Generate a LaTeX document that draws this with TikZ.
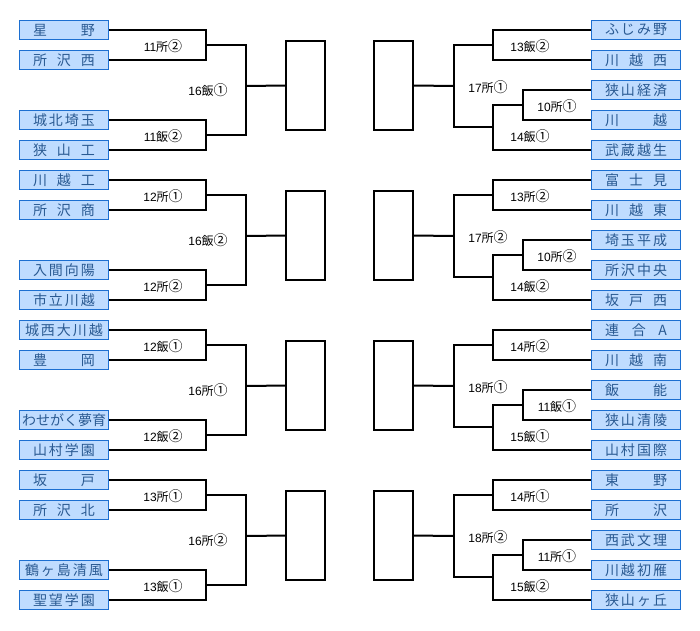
\documentclass[tikz,border=0pt]{standalone}
\usepackage{fontspec}
\newfontfamily\jp{Noto Sans CJK JP}
\newfontfamily\lat{Liberation Sans}
\definecolor{boxfill}{HTML}{BFDCFF}
\definecolor{boxline}{HTML}{1C6FD1}
\definecolor{boxtext}{HTML}{2A5A92}
\newcommand\nm[2]{\makebox[#1][s]{#2}}
\newcommand\lb[3]{{\lat\fontsize{12}{12}\selectfont #1}{\jp\fontsize{12}{12}\selectfont #2}{\jp\fontsize{14}{14}\selectfont #3}}
\tikzset{
  team/.style={draw=boxline, fill=boxfill, line width=1.1pt, minimum width=89pt, minimum height=19pt, inner sep=0pt, text=boxtext, font=\jp\fontsize{14}{14}\selectfont},
  winbox/.style={draw=black, line width=2pt, minimum width=39pt, minimum height=89pt, inner sep=0pt},
  bline/.style={draw=black, line width=2pt},
  lab/.style={inner sep=0pt, text=black}
}
\begin{document}
\begin{tikzpicture}[x=1pt,y=-1pt]
\useasboundingbox (0,0) rectangle (700,630);
\fill[white] (0,0) rectangle (700,630);
% ---------- left teams ----------
\node[team] (L0-1) at (64,30)  {\nm{62pt}{星\hfil 野}};
\node[team] (L0-2) at (64,60)  {\nm{62pt}{所\hfil 沢\hfil 西}};
\node[team] (L0-3) at (64,120) {\nm{62pt}{城\hfil 北\hfil 埼\hfil 玉}};
\node[team] (L0-4) at (64,150) {\nm{62pt}{狭\hfil 山\hfil 工}};
\node[team] (L1-1) at (64,180) {\nm{62pt}{川\hfil 越\hfil 工}};
\node[team] (L1-2) at (64,210) {\nm{62pt}{所\hfil 沢\hfil 商}};
\node[team] (L1-3) at (64,270) {\nm{62pt}{入\hfil 間\hfil 向\hfil 陽}};
\node[team] (L1-4) at (64,300) {\nm{62pt}{市\hfil 立\hfil 川\hfil 越}};
\node[team] (L2-1) at (64,330) {\nm{78pt}{城\hfil 西\hfil 大\hfil 川\hfil 越}};
\node[team] (L2-2) at (64,360) {\nm{62pt}{豊\hfil 岡}};
\node[team] (L2-3) at (64,420) {\nm{84pt}{わ\hfil せ\hfil が\hfil く\hfil 夢\hfil 育}};
\node[team] (L2-4) at (64,450) {\nm{62pt}{山\hfil 村\hfil 学\hfil 園}};
\node[team] (L3-1) at (64,480) {\nm{62pt}{坂\hfil 戸}};
\node[team] (L3-2) at (64,510) {\nm{62pt}{所\hfil 沢\hfil 北}};
\node[team] (L3-3) at (64,570) {\nm{78pt}{鶴\hfil ヶ\hfil 島\hfil 清\hfil 風}};
\node[team] (L3-4) at (64,600) {\nm{62pt}{聖\hfil 望\hfil 学\hfil 園}};
% ---------- right teams ----------
\node[team] (R0-1) at (636,30)  {\nm{62pt}{ふ\hfil じ\hfil み\hfil 野}};
\node[team] (R0-2) at (636,60)  {\nm{62pt}{川\hfil 越\hfil 西}};
\node[team] (R0-3) at (636,90)  {\nm{62pt}{狭\hfil 山\hfil 経\hfil 済}};
\node[team] (R0-4) at (636,120) {\nm{62pt}{川\hfil 越}};
\node[team] (R0-5) at (636,150) {\nm{62pt}{武\hfil 蔵\hfil 越\hfil 生}};
\node[team] (R1-1) at (636,180) {\nm{62pt}{富\hfil 士\hfil 見}};
\node[team] (R1-2) at (636,210) {\nm{62pt}{川\hfil 越\hfil 東}};
\node[team] (R1-3) at (636,240) {\nm{62pt}{埼\hfil 玉\hfil 平\hfil 成}};
\node[team] (R1-4) at (636,270) {\nm{62pt}{所\hfil 沢\hfil 中\hfil 央}};
\node[team] (R1-5) at (636,300) {\nm{62pt}{坂\hfil 戸\hfil 西}};
\node[team] (R2-1) at (636,330) {\nm{62pt}{連\hfil 合\hfil A}};
\node[team] (R2-2) at (636,360) {\nm{62pt}{川\hfil 越\hfil 南}};
\node[team] (R2-3) at (636,390) {\nm{62pt}{飯\hfil 能}};
\node[team] (R2-4) at (636,420) {\nm{62pt}{狭\hfil 山\hfil 清\hfil 陵}};
\node[team] (R2-5) at (636,450) {\nm{62pt}{山\hfil 村\hfil 国\hfil 際}};
\node[team] (R3-1) at (636,480) {\nm{62pt}{東\hfil 野}};
\node[team] (R3-2) at (636,510) {\nm{62pt}{所\hfil 沢}};
\node[team] (R3-3) at (636,540) {\nm{62pt}{西\hfil 武\hfil 文\hfil 理}};
\node[team] (R3-4) at (636,570) {\nm{62pt}{川\hfil 越\hfil 初\hfil 雁}};
\node[team] (R3-5) at (636,600) {\nm{62pt}{狭\hfil 山\hfil ヶ\hfil 丘}};
% ---------- brackets ----------
\foreach \i/\o in {0/0,1/150,2/300,3/450}{
  % left
  \node[winbox] (LW\i) at (305.5,85.5+\o) {};
  \coordinate (LA\i) at (206,45+\o);
  \coordinate (LB\i) at (246,45+\o);
  \coordinate (LC\i) at (206,135+\o);
  \coordinate (LD\i) at (246,135+\o);
  \coordinate (LM\i) at (246,86+\o);
  \draw[bline] (L\i-1.east) -| (LA\i) |- (L\i-2.east);
  \draw[bline] (L\i-3.east) -| (LC\i) |- (L\i-4.east);
  \draw[bline] (LA\i) -- (LB\i) -- (LD\i) -- (LC\i);
  \draw[bline] (LM\i) -- (LW\i.west);
  % right
  \node[winbox] (RW\i) at (393.5,85.5+\o) {};
  \coordinate (RA\i) at (493,45+\o);
  \coordinate (RB\i) at (454,45+\o);
  \coordinate (RC\i) at (523,105+\o);
  \coordinate (RD\i) at (493,105+\o);
  \coordinate (RE\i) at (493,127+\o);
  \coordinate (RF\i) at (454,127+\o);
  \coordinate (RM\i) at (454,86+\o);
  \draw[bline] (R\i-1.west) -| (RA\i) |- (R\i-2.west);
  \draw[bline] (R\i-3.west) -| (RC\i) |- (R\i-4.west);
  \draw[bline] (RC\i) -- (RD\i) |- (R\i-5.west);
  \draw[bline] (RA\i) -- (RB\i) -- (RF\i) -- (RE\i);
  \draw[bline] (RM\i) -- (RW\i.east);
}
% ---------- labels left ----------
\node[lab] (l01) at (163,46)  {\lb{11}{所}{②}};
\node[lab] (l02) at (208,90)  {\lb{16}{飯}{①}};
\node[lab] (l03) at (163,136) {\lb{11}{飯}{②}};
\node[lab] (l11) at (163,196) {\lb{12}{所}{①}};
\node[lab] (l12) at (208,240) {\lb{16}{飯}{②}};
\node[lab] (l13) at (163,286) {\lb{12}{所}{②}};
\node[lab] (l21) at (163,346) {\lb{12}{飯}{①}};
\node[lab] (l22) at (208,390) {\lb{16}{所}{①}};
\node[lab] (l23) at (163,436) {\lb{12}{飯}{②}};
\node[lab] (l31) at (163,496) {\lb{13}{所}{①}};
\node[lab] (l32) at (208,540) {\lb{16}{所}{②}};
\node[lab] (l33) at (163,586) {\lb{13}{飯}{①}};
% ---------- labels right ----------
\node[lab] (r01) at (530,46)  {\lb{13}{飯}{②}};
\node[lab] (r02) at (488,87)  {\lb{17}{所}{①}};
\node[lab] (r03) at (557,106) {\lb{10}{所}{①}};
\node[lab] (r04) at (530,136) {\lb{14}{飯}{①}};
\node[lab] (r11) at (530,196) {\lb{13}{所}{②}};
\node[lab] (r12) at (488,237) {\lb{17}{所}{②}};
\node[lab] (r13) at (557,256) {\lb{10}{所}{②}};
\node[lab] (r14) at (530,286) {\lb{14}{飯}{②}};
\node[lab] (r21) at (530,346) {\lb{14}{所}{②}};
\node[lab] (r22) at (488,387) {\lb{18}{所}{①}};
\node[lab] (r23) at (557,406) {\lb{11}{飯}{①}};
\node[lab] (r24) at (530,436) {\lb{15}{飯}{①}};
\node[lab] (r31) at (530,496) {\lb{14}{所}{①}};
\node[lab] (r32) at (488,537) {\lb{18}{所}{②}};
\node[lab] (r33) at (557,556) {\lb{11}{所}{①}};
\node[lab] (r34) at (530,586) {\lb{15}{飯}{②}};
\end{tikzpicture}
\end{document}
